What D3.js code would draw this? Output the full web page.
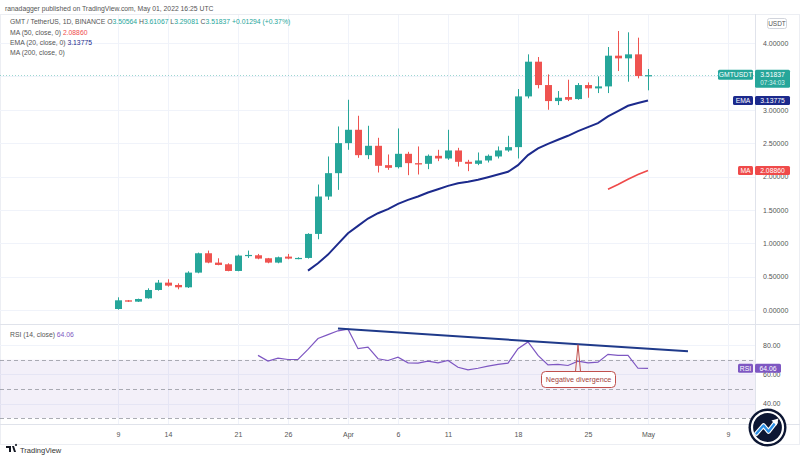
<!DOCTYPE html>
<html><head><meta charset="utf-8">
<script src="https://cdn.jsdelivr.net/npm/d3@7"></script>
<style>
html,body{margin:0;padding:0;background:#fff;}
svg{display:block;font-family:"Liberation Sans",Arial,sans-serif;}
</style></head>
<body>
<svg id="c" width="800" height="460"></svg>
<script>
// ---------- DATA ----------
const startDate = "2022-03-09";
const opens  = [0.015,0.145,0.125,0.175,0.30,0.41,0.375,0.34,0.56,0.85,0.71,0.685,0.585,0.815,0.82,0.775,0.71,0.80,0.77,0.78,1.14,1.70,2.05,2.50,2.70,2.32,2.46,2.17,2.14,2.34,2.20,2.19,2.31,2.27,2.39,2.22,2.19,2.24,2.30,2.39,2.44,3.20,3.72,3.37,3.13,3.19,3.16,3.37,3.32,3.35,3.81,3.77,3.83,3.50564];
const highs  = [0.19,0.15,0.17,0.325,0.45,0.46,0.40,0.58,0.86,0.89,0.775,0.70,0.83,0.89,0.84,0.78,0.80,0.84,0.79,1.15,1.88,2.30,2.75,3.15,2.91,2.76,2.58,2.33,2.72,2.37,2.45,2.33,2.40,2.70,2.43,2.25,2.36,2.33,2.45,2.61,3.31,3.83,3.79,3.53,3.28,3.45,3.40,3.41,3.50,3.94,4.18,4.16,4.08,3.61067];
const lows   = [0.005,0.12,0.12,0.17,0.29,0.35,0.31,0.33,0.55,0.70,0.67,0.58,0.58,0.78,0.76,0.70,0.70,0.76,0.76,0.77,1.06,1.65,1.80,2.40,2.28,2.26,2.06,2.10,2.12,2.02,2.03,2.11,2.23,2.25,2.15,2.08,2.17,2.21,2.27,2.37,2.27,3.17,3.32,3.00,3.07,3.13,3.15,3.18,3.25,3.25,3.58,3.42,3.47,3.29081];
const closes = [0.145,0.125,0.165,0.30,0.41,0.365,0.34,0.56,0.85,0.71,0.675,0.585,0.815,0.825,0.77,0.71,0.79,0.77,0.78,1.14,1.70,2.05,2.50,2.70,2.32,2.46,2.16,2.13,2.34,2.20,2.18,2.31,2.27,2.39,2.22,2.19,2.24,2.31,2.39,2.44,3.20,3.72,3.37,3.13,3.18,3.15,3.37,3.32,3.35,3.81,3.77,3.83,3.506,3.51837];
const emaStart = 19;   // EMA(20) first drawn at Mar 28
const ema20 = [0.59,0.70,0.83,0.99,1.15,1.26,1.37,1.45,1.51,1.59,1.65,1.70,1.76,1.81,1.86,1.90,1.92,1.95,1.99,2.03,2.07,2.17,2.32,2.42,2.49,2.55,2.61,2.68,2.74,2.80,2.90,2.98,3.06,3.10,3.138];
const maStart = 49;    // MA(50) first drawn at Apr 27
const ma50 = [1.81,1.88,1.96,2.03,2.089];
const rsiStart = 14;   // RSI(14) first drawn at Mar 23
const rsi = [72.9,69.0,71.0,70.1,70.1,77.0,84.4,87.1,89.7,90.8,77.5,78.6,70.6,69.4,71.7,67.8,67.6,69.0,67.8,69.4,64.8,63.0,64.1,65.5,66.7,67.6,77.5,82.1,72.9,66.4,66.7,66.0,69.0,67.8,68.3,73.6,72.9,72.9,64.1,64.06];
const trendDates = ["2022-03-31","2022-05-05"];
const trendRsi = [91.2,75.7];
const calloutDate = "2022-04-24";
const calloutRsi = 80.2;
const tickDates = ["2022-03-09","2022-03-14","2022-03-21","2022-03-26","2022-04-01","2022-04-06","2022-04-11","2022-04-18","2022-04-25","2022-05-01","2022-05-09"];
const tickLabels = ["9","14","21","26","Apr","6","11","18","25","May","9"];
const priceTicks = [0,0.5,1,1.5,2,2.5,3,4];
const rsiTicks = [80,60,40];
const lastPrice = 3.51837, lastEma = 3.13775, lastMa = 2.08860, lastRsi = 64.06;

// ---------- SETUP ----------
const svg = d3.select("#c");
const parse = d3.utcParse("%Y-%m-%d");
const d0 = parse(startDate);
const dates = d3.range(opens.length).map(i => d3.utcDay.offset(d0, i));
const candles = dates.map((d,i)=>({d, o:opens[i], h:highs[i], l:lows[i], c:closes[i]}));

const GREEN="#26a69a", RED="#ef5350", NAVY="#1c2a8c", PURPLE="#7e57c2", GRID="#f0f3fa";
const plotR = 755;
const x = d3.scaleUtc().domain([d0, parse("2022-05-01")]).range([118, 648]);
const y = d3.scaleLinear().domain([0,4]).range([310,43]);
const yr = d3.scaleLinear().domain([40,80]).range([403.5,345]);

// frame
svg.append("rect").attr("x",0.5).attr("y",14.5).attr("width",799).attr("height",430).attr("fill","none").attr("stroke","#eceef3");
// separators
svg.append("line").attr("x1",0).attr("x2",800).attr("y1",324.5).attr("y2",324.5).attr("stroke","#e0e3eb");
svg.append("line").attr("x1",0).attr("x2",800).attr("y1",424.5).attr("y2",424.5).attr("stroke","#e0e3eb");
svg.append("line").attr("x1",plotR+0.5).attr("x2",plotR+0.5).attr("y1",14).attr("y2",424).attr("stroke","#e0e3eb");

// vertical grid
svg.append("g").selectAll("line").data(tickDates).join("line")
  .attr("x1",d=>Math.round(x(parse(d)))+0.5).attr("x2",d=>Math.round(x(parse(d)))+0.5)
  .attr("y1",15).attr("y2",424).attr("stroke",GRID);
// horizontal grid (price)
svg.append("g").selectAll("line").data([0,0.5,1,1.5,2,2.5,3,3.5,4]).join("line")
  .attr("x1",0).attr("x2",plotR).attr("y1",d=>Math.round(y(d))+0.5).attr("y2",d=>Math.round(y(d))+0.5).attr("stroke",GRID);
svg.append("g").selectAll("line").data([80,60,40]).join("line")
  .attr("x1",0).attr("x2",plotR).attr("y1",d=>Math.round(yr(d))+0.5).attr("y2",d=>Math.round(yr(d))+0.5).attr("stroke",GRID);

// RSI band
svg.append("rect").attr("x",0).attr("width",plotR).attr("y",yr(70)).attr("height",yr(30)-yr(70)).attr("fill","rgba(126,87,194,0.09)");
svg.append("g").selectAll("line").data([70,50,30]).join("line")
  .attr("x1",0).attr("x2",plotR).attr("y1",d=>Math.round(yr(d))+0.5).attr("y2",d=>Math.round(yr(d))+0.5)
  .attr("stroke","#9598a1").attr("stroke-dasharray","4,3").attr("stroke-width",0.8);

// last price line
svg.append("line").attr("x1",0).attr("x2",plotR).attr("y1",Math.round(y(lastPrice))+0.5).attr("y2",Math.round(y(lastPrice))+0.5)
  .attr("stroke",GREEN).attr("stroke-opacity",0.45).attr("stroke-dasharray","1,2");

// candles
const cg = svg.append("g");
cg.selectAll("line").data(candles).join("line")
  .attr("x1",d=>Math.round(x(d.d))+0.5).attr("x2",d=>Math.round(x(d.d))+0.5)
  .attr("y1",d=>y(d.h)).attr("y2",d=>y(d.l))
  .attr("stroke",d=>d.c>=d.o?GREEN:RED).attr("stroke-width",1);
cg.selectAll("rect").data(candles).join("rect")
  .attr("x",d=>Math.round(x(d.d))-3).attr("width",7)
  .attr("y",d=>y(Math.max(d.o,d.c)))
  .attr("height",d=>Math.max(1.2, Math.abs(y(d.o)-y(d.c))))
  .attr("fill",d=>d.c>=d.o?GREEN:RED);

// EMA & MA
const line = d3.line().x(d=>x(d.d)).y(d=>y(d.v));
svg.append("path").datum(ema20.map((v,i)=>({d:dates[emaStart+i],v})))
  .attr("d",line).attr("fill","none").attr("stroke",NAVY).attr("stroke-width",2);
svg.append("path").datum(ma50.map((v,i)=>({d:dates[maStart+i],v})))
  .attr("d",line).attr("fill","none").attr("stroke","#ef4a4a").attr("stroke-width",1.6);

// RSI
const rline = d3.line().x(d=>x(d.d)).y(d=>yr(d.v));
svg.append("path").datum(rsi.map((v,i)=>({d:dates[rsiStart+i],v})))
  .attr("d",rline).attr("fill","none").attr("stroke",PURPLE).attr("stroke-width",1.2);
// trend line
svg.append("path").datum(trendDates.map((d,i)=>({d:parse(d),v:trendRsi[i]})))
  .attr("d",rline).attr("fill","none").attr("stroke","#1f3a8a").attr("stroke-width",2);

// callout
const cx = x(parse(calloutDate)), cy = yr(calloutRsi);
const CALL="#c0504d";
svg.append("path").attr("d",`M${cx-2.5},371.5 L${cx},${cy} L${cx+2.5},371.5`).attr("fill","none").attr("stroke",CALL).attr("stroke-width",1);
svg.append("rect").attr("x",541.5).attr("y",371.5).attr("width",74).attr("height",16).attr("rx",4)
  .attr("fill","#fff").attr("stroke",CALL).attr("stroke-width",1);
svg.append("text").attr("x",578.5).attr("y",382).attr("text-anchor","middle").attr("font-size",7.2)
  .attr("fill","#a23e3b").text("Negative divergence");

// x axis
const xa = svg.append("g").attr("transform","translate(0,424)")
  .call(d3.axisBottom(x).tickValues(tickDates.map(parse)).tickFormat((d,i)=>tickLabels[i]).tickSize(0).tickPadding(8));
xa.select(".domain").remove();
xa.selectAll("text").attr("font-size",7).attr("fill","#555").attr("font-family","Liberation Sans, Arial, sans-serif");

// price axis
const ya = svg.append("g").attr("transform",`translate(${plotR},0)`)
  .call(d3.axisRight(y).tickValues(priceTicks).tickFormat(d3.format(".5f")).tickSize(0).tickPadding(8));
ya.select(".domain").remove();
ya.selectAll("text").attr("font-size",7).attr("fill","#555").attr("font-family","Liberation Sans, Arial, sans-serif");
// rsi axis
const ra = svg.append("g").attr("transform",`translate(${plotR},0)`)
  .call(d3.axisRight(yr).tickValues(rsiTicks).tickFormat(d3.format(".2f")).tickSize(0).tickPadding(8));
ra.select(".domain").remove();
ra.selectAll("text").attr("font-size",7).attr("fill","#555").attr("font-family","Liberation Sans, Arial, sans-serif");

// USDT box
svg.append("rect").attr("x",767.5).attr("y",18.5).attr("width",19).attr("height",10).attr("rx",2).attr("fill","#fff").attr("stroke","#d1d4dc");
svg.append("text").attr("x",777).attr("y",26).attr("text-anchor","middle").attr("font-size",6.5).attr("fill","#555").text("USDT");

// right labels
function tag(x0,w,yc,h,fill,txt,fs){
  svg.append("rect").attr("x",x0).attr("y",yc-h/2).attr("width",w).attr("height",h).attr("rx",1.5).attr("fill",fill);
  svg.append("text").attr("x",x0+w/2).attr("y",yc+2.4).attr("text-anchor","middle").attr("font-size",fs||6.8).attr("fill","#fff").text(txt);
}
const yp = y(lastPrice);
tag(718,35,yp-0.5,10,GREEN,"GMTUSDT");
svg.append("rect").attr("x",755).attr("y",yp-5.5).attr("width",35).attr("height",18).attr("rx",1.5).attr("fill",GREEN);
svg.append("text").attr("x",772.5).attr("y",yp+2).attr("text-anchor","middle").attr("font-size",6.8).attr("fill","#fff").text(d3.format(".5f")(lastPrice));
svg.append("text").attr("x",772.5).attr("y",yp+9.5).attr("text-anchor","middle").attr("font-size",6.3).attr("fill","#d8f0ec").text("07:34:03");
const ye = y(lastEma);
tag(733,20,ye,9,NAVY,"EMA");
tag(755,35,ye,9,NAVY,d3.format(".5f")(lastEma));
const ym = y(lastMa);
tag(738,15,ym,9,"#ef4a4a","MA");
tag(755,35,ym,9,"#ef4a4a",d3.format(".5f")(lastMa));
const yrr = yr(lastRsi);
tag(738,15,yrr,9,PURPLE,"RSI");
tag(755,26,yrr,9,PURPLE,d3.format(".2f")(lastRsi));

// header
const hdr = svg.append("g").attr("font-size",6.8);
hdr.append("text").attr("x",5).attr("y",10.5).attr("fill","#555").text("ranadagger published on TradingView.com, May 01, 2022 16:25 UTC");
const t2 = hdr.append("text").attr("x",10).attr("y",24).attr("fill","#555");
t2.append("tspan").text("GMT / TetherUS, 1D, BINANCE ");
[["O","3.50564"],["H","3.61067"],["L","3.29081"],["C","3.51837"]].forEach(([k,v])=>{
  t2.append("tspan").attr("fill","#555").text(k);
  t2.append("tspan").attr("fill",GREEN).text(v+" ");
});
t2.append("tspan").attr("fill",GREEN).text("+0.01294 (+0.37%)");
const t3 = hdr.append("text").attr("x",10).attr("y",34.5).attr("fill","#555");
t3.append("tspan").text("MA (50, close, 0) ");
t3.append("tspan").attr("fill","#ef4a4a").text("2.08860");
const t4 = hdr.append("text").attr("x",10).attr("y",44.5).attr("fill","#555");
t4.append("tspan").text("EMA (20, close, 0) ");
t4.append("tspan").attr("fill",NAVY).text("3.13775");
hdr.append("text").attr("x",10).attr("y",54.5).attr("fill","#555").text("MA (200, close, 0)");
const t5 = svg.append("text").attr("x",10).attr("y",337).attr("font-size",6.8).attr("fill","#555");
t5.append("tspan").text("RSI (14, close) ");
t5.append("tspan").attr("fill",PURPLE).text("64.06");

// footer TradingView logo
const fl = svg.append("g").attr("transform","translate(6,445)");
fl.append("path").attr("d","M0,1 h5 v6 h-2 v-4 h-3 z M6,1 h2 l2,6 h-2 z M10,1 a1,1 0 1,1 0.01,0").attr("fill","#131722");
fl.append("text").attr("x",14).attr("y",7.5).attr("font-size",7.5).attr("fill","#333").text("TradingView");

// bottom-right logo
const lg = svg.append("g").attr("transform","translate(767.5,427.5)");
lg.append("circle").attr("r",19).attr("fill","#0c1633");
lg.append("circle").attr("r",15.5).attr("fill","none").attr("stroke","#fff").attr("stroke-width",2.2);
lg.append("circle").attr("r",13.5).attr("fill","#0c1633");
lg.append("path").attr("d","M-11,6 L-4,-2 L1,4 L8,-5").attr("fill","none").attr("stroke","#fff").attr("stroke-width",4.5).attr("stroke-linecap","round").attr("stroke-linejoin","round");
lg.append("path").attr("d","M-11,6 L-4,-2 L1,4 L8,-5").attr("fill","none").attr("stroke","#2b8fe6").attr("stroke-width",2.4).attr("stroke-linecap","round").attr("stroke-linejoin","round");
lg.append("path").attr("d","M4,-7 L11,-9 L9,-2 Z").attr("fill","#fff");
</script>
</body></html>
